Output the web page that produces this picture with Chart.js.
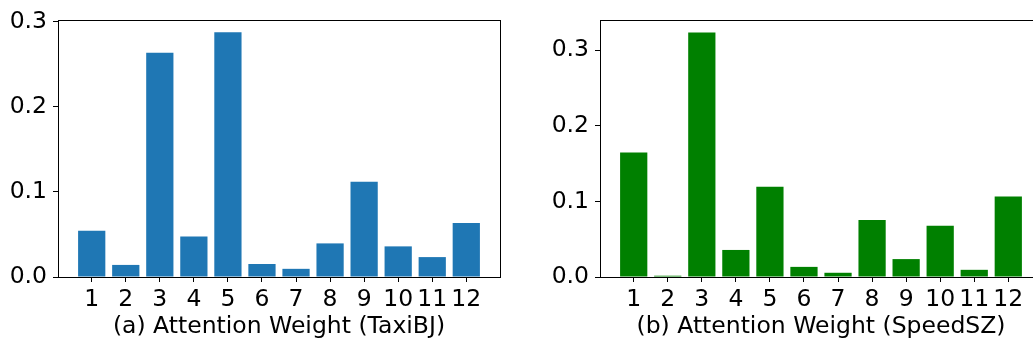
<!DOCTYPE html>
<html>
<head>
<meta charset="utf-8">
<script src="https://cdn.jsdelivr.net/npm/chart.js@4"></script>
<style>
  html, body { margin: 0; padding: 0; background: #fff; overflow: hidden; width: 1033px; height: 345px; }
  canvas { position: absolute; top: 0; }
  #chartA { left: 0; }
  #chartB { left: 540px; }
</style>
</head>
<body>
<canvas id="chartA" width="510" height="345"></canvas>
<canvas id="chartB" width="510" height="345"></canvas>
<script>
const steps = [1, 2, 3, 4, 5, 6, 7, 8, 9, 10, 11, 12];
const taxiWeights = [0.0544, 0.0142, 0.2636, 0.0475, 0.2877, 0.0153, 0.0096, 0.0395, 0.1119, 0.0360, 0.0234, 0.0636];
const speedWeights = [0.1647, 0.0017, 0.3237, 0.0358, 0.1194, 0.0134, 0.0056, 0.0754, 0.0237, 0.0677, 0.0095, 0.1065];
const yTicks = [0, 0.1, 0.2, 0.3];
const titleA = '(a) Attention Weight (TaxiBJ)';
const titleB = '(b) Attention Weight (SpeedSZ)';

const font = { family: 'DejaVu Sans', size: 23.5 };

// box around the plot area, like matplotlib spines
const frame = {
  id: 'frame',
  afterDraw(chart) {
    const a = chart.chartArea;
    const ctx = chart.ctx;
    ctx.save();
    ctx.strokeStyle = '#000';
    ctx.lineWidth = 1;
    ctx.strokeRect(Math.round(a.left) + 0.5, Math.round(a.top) + 0.5,
      Math.round(a.right - a.left), Math.round(a.bottom - a.top));
    ctx.restore();
  }
};

function makeChart(id, values, color, title, yMax, axisWidth, padRight) {
  return new Chart(document.getElementById(id), {
    type: 'bar',
    data: {
      datasets: [{
        data: steps.map((s, i) => ({ x: s, y: values[i] })),
        backgroundColor: color,
        borderWidth: 0,
        barPercentage: 0.8,
        categoryPercentage: 1
      }]
    },
    options: {
      responsive: false,
      animation: false,
      layout: { padding: { top: 14, right: padRight, left: 0, bottom: 0 } },
      plugins: { legend: { display: false }, tooltip: { enabled: false } },
      scales: {
        x: {
          type: 'linear',
          offset: false,
          min: 0.01,
          max: 12.99,
          afterBuildTicks: s => { s.ticks = steps.map(v => ({ value: v })); },
          afterFit: s => { s.height = 68; },
          border: { display: false },
          grid: { offset: false, drawOnChartArea: false, drawTicks: true, tickLength: 5, color: '#000' },
          ticks: { font, color: '#000', padding: 4, maxRotation: 0, autoSkip: false, callback: v => String(v) },
          title: { display: true, text: title, font, color: '#000', padding: { top: 0, bottom: 4 } }
        },
        y: {
          min: 0,
          max: yMax,
          afterBuildTicks: s => { s.ticks = yTicks.map(v => ({ value: v })); },
          afterFit: s => { s.width = axisWidth; },
          border: { display: false },
          grid: { drawOnChartArea: false, drawTicks: true, tickLength: 5, color: '#000' },
          ticks: { font, color: '#000', padding: 6, callback: v => v.toFixed(1) }
        }
      }
    },
    plugins: [frame]
  });
}

makeChart('chartA', taxiWeights, '#1f77b4', titleA, 0.302, 58, 10);
makeChart('chartB', speedWeights, '#008000', titleB, 0.340, 60, 8);
</script>
</body>
</html>
